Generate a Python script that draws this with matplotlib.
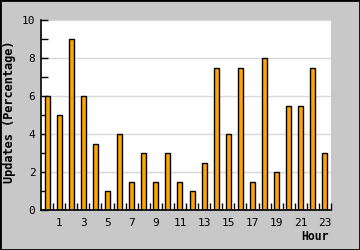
import matplotlib
matplotlib.use("Agg")
import matplotlib.pyplot as plt
from matplotlib.patches import Rectangle

# data
hours = list(range(24))
updates = [6, 5, 9, 6, 3.5, 1, 4, 1.5, 3, 1.5, 3, 1.5,
           1, 2.5, 7.5, 4, 7.5, 1.5, 8, 2, 5.5, 5.5, 7.5, 3]
label_hours = [1, 3, 5, 7, 9, 11, 13, 15, 17, 19, 21, 23]
y_major = [0, 2, 4, 6, 8, 10]
y_minor = [1, 3, 5, 7, 9]

mono = "DejaVu Sans Mono"

fig = plt.figure(figsize=(3.6, 2.5), dpi=100, facecolor="#c8c8c8")
ax = fig.add_axes([41 / 360, 40 / 250, 290 / 360, 190 / 250])
ax.set_facecolor("white")

ax.bar(hours, updates, width=0.42, color="#ffa500", edgecolor="black",
       linewidth=1, zorder=3)

ax.set_xlim(-0.5, 23.5)
ax.set_ylim(0, 10)

# y axis
ax.set_yticks(y_major)
ax.set_yticks(y_minor, minor=True)
ax.yaxis.grid(True, which="major", color="#d8d8d8", linewidth=1, zorder=0)
ax.tick_params(axis="y", which="both", direction="in", length=5,
               width=1, pad=4, labelsize=8)

# x axis: labels at odd hours, tick marks at slot borders
ax.set_xticks(label_hours)
ax.set_xticklabels([str(h) for h in label_hours])
ax.set_xticks([h + 0.5 for h in hours], minor=True)
ax.tick_params(axis="x", which="major", length=0, pad=6, labelsize=8)
ax.tick_params(axis="x", which="minor", direction="in", length=5, width=1)

for lab in ax.get_xticklabels() + ax.get_yticklabels():
    lab.set_family(mono)

for side in ["top", "right"]:
    ax.spines[side].set_visible(False)
for side in ["left", "bottom"]:
    ax.spines[side].set_linewidth(1.2)
    ax.spines[side].set_zorder(4)

fig.text(10 / 360, 1 - 112 / 250, "Updates (Percentage)", rotation=90,
         ha="center", va="center", fontsize=8.6, fontweight="bold", family=mono)
fig.text(329 / 360, 1 - 236 / 250, "Hour", ha="right", va="center",
         fontsize=8.3, fontweight="bold", family=mono)

# black frame around the whole image
fig.add_artist(Rectangle((0, 0), 1, 1, transform=fig.transFigure,
                         fill=False, edgecolor="black", linewidth=2))

fig.savefig("out.png", dpi=100, facecolor=fig.get_facecolor())
